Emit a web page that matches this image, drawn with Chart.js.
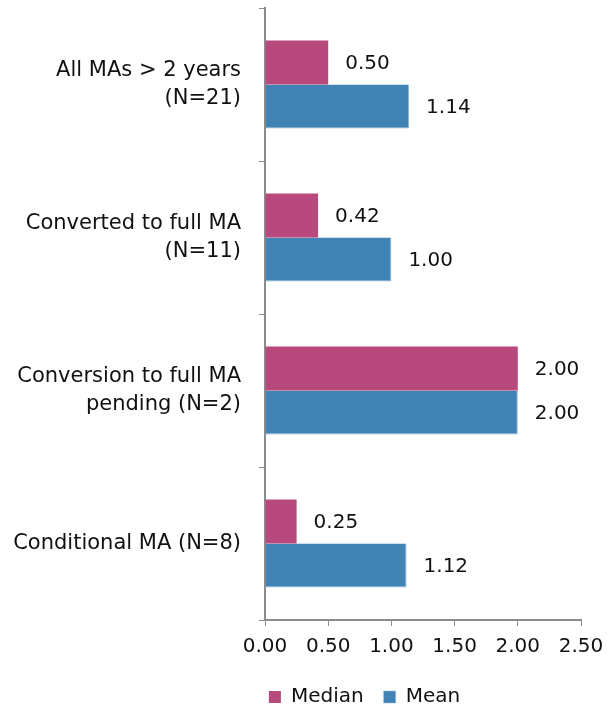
<!DOCTYPE html>
<html>
<head>
<meta charset="utf-8">
<script src="https://cdn.jsdelivr.net/npm/chart.js@4"></script>
<style>
  html, body { margin: 0; padding: 0; background: #fff; }
  #wrap { width: 615px; height: 711px; }
</style>
</head>
<body>
<div id="wrap"><canvas id="chart" width="615" height="711"></canvas></div>
<script>
const categories = [
  ['All MAs > 2 years', '(N=21)'],
  ['Converted to full MA', '(N=11)'],
  ['Conversion to full MA', 'pending (N=2)'],
  ['Conditional MA (N=8)']
];
const medianValues = [0.50, 0.42, 2.00, 0.25];
const meanValues = [1.14, 1.00, 2.00, 1.12];
const xTicks = [0, 0.5, 1, 1.5, 2, 2.5];

const FONT = 'DejaVu Sans, Verdana, sans-serif';
const axisColor = '#8c8c8c';

// etiquetas de valor ao lado das barras
const valueLabels = {
  id: 'valueLabels',
  afterDatasetsDraw(chart) {
    const ctx = chart.ctx;
    ctx.save();
    ctx.font = '20px ' + FONT;
    ctx.fillStyle = '#111';
    ctx.textAlign = 'left';
    ctx.textBaseline = 'middle';
    chart.data.datasets.forEach((ds, i) => {
      chart.getDatasetMeta(i).data.forEach((bar, j) => {
        ctx.fillText(ds.data[j].toFixed(2), bar.x + 17, bar.y + 1);
      });
    });
    ctx.restore();
  }
};

// legenda: altura fixa e deslocada para a direita, como no original
const legendTweak = {
  id: 'legendTweak',
  beforeLayout(chart) {
    const lg = chart.legend;
    if (lg && !lg._patched) {
      const fit = lg.fit;
      lg.fit = function () { fit.call(this); this.height = 44; };
      lg._patched = true;
    }
  },
  afterLayout(chart) {
    const lg = chart.legend;
    if (lg) { lg.left += 70; lg.right += 70; }
  }
};

new Chart(document.getElementById('chart'), {
  type: 'bar',
  data: {
    labels: categories,
    datasets: [
      { label: 'Median', data: medianValues, backgroundColor: '#b7497d', borderWidth: 0 },
      { label: 'Mean', data: meanValues, backgroundColor: '#4183b5', borderColor: '#8db8d8', borderWidth: { top: 0, bottom: 1, right: 1, left: 0 } }
    ]
  },
  options: {
    indexAxis: 'y',
    responsive: false,
    animation: false,
    layout: { padding: { left: 8, right: 34, top: 8, bottom: 0 } },
    categoryPercentage: 0.575,
    barPercentage: 1,
    plugins: {
      tooltip: { enabled: false },
      legend: {
        position: 'bottom',
        labels: {
          font: { family: FONT, size: 20 },
          color: '#111',
          boxWidth: 12,
          boxHeight: 12,
          padding: 20
        }
      }
    },
    scales: {
      x: {
        min: 0,
        max: 2.5,
        afterBuildTicks: (scale) => { scale.ticks = xTicks.map(v => ({ value: v })); },
        afterFit: (scale) => { scale.height = 47; },
        ticks: {
          font: { family: FONT, size: 20 },
          color: '#111',
          padding: 9,
          callback: (v) => Number(v).toFixed(2)
        },
        grid: { drawOnChartArea: false, color: axisColor, tickLength: 6 },
        border: { color: axisColor, width: 2 }
      },
      y: {
        afterFit: (scale) => { scale.width = 257; scale.paddingTop = 0; scale.paddingBottom = 0; },
        ticks: {
          font: { family: FONT, size: 21, lineHeight: 1.33 },
          color: '#111',
          padding: 18
        },
        grid: { drawOnChartArea: false, offset: true, color: axisColor, tickLength: 6 },
        border: { color: axisColor, width: 2 }
      }
    }
  },
  plugins: [valueLabels, legendTweak]
});
</script>
</body>
</html>
